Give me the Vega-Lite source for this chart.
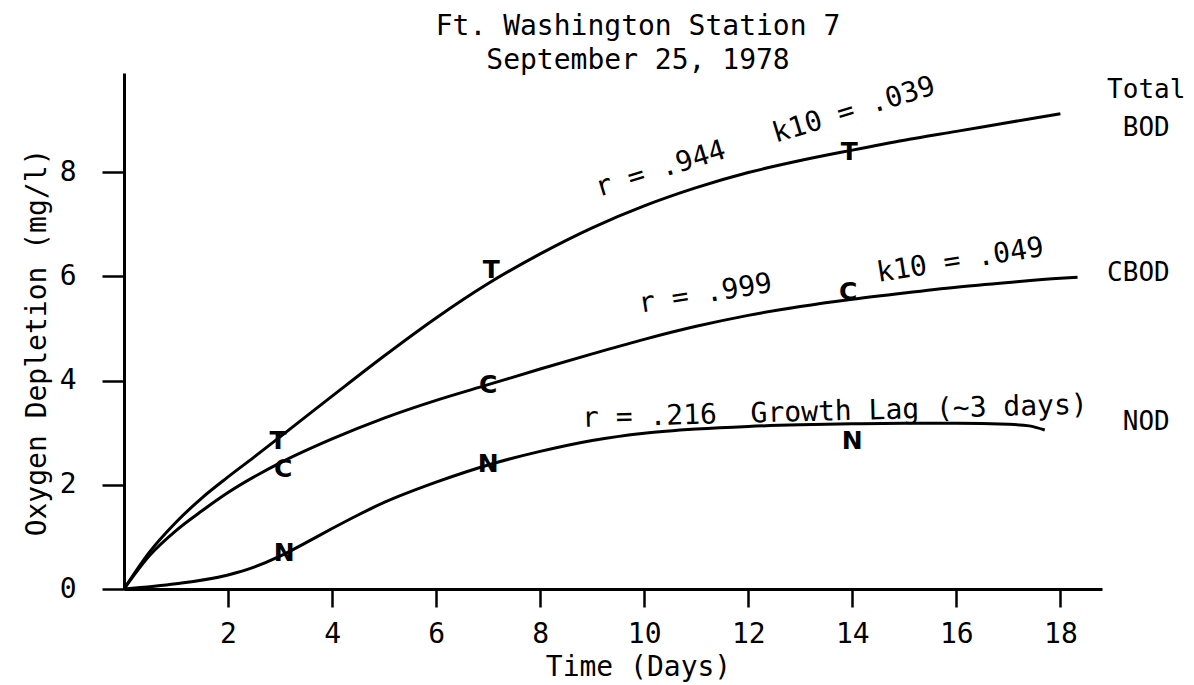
{
  "$schema": "https://vega.github.io/schema/vega-lite/v6.json",
  "width": 978,
  "height": 516,
  "autosize": {"type": "none"},
  "padding": {"left": 124, "top": 73, "right": 92, "bottom": 96},
  "background": "white",
  "config": {
    "view": {"stroke": null},
    "font": "DejaVu Sans Mono",
    "axis": {
      "grid": false,
      "domainColor": "black",
      "domainWidth": 3,
      "tickColor": "black",
      "tickWidth": 2.5,
      "labelColor": "black",
      "titleColor": "black",
      "labelFont": "DejaVu Sans Mono",
      "titleFont": "DejaVu Sans Mono",
      "labelFontSize": 28,
      "titleFontSize": 28,
      "titleFontWeight": "normal",
      "labelFlush": false
    }
  },
  "title": {
    "text": ["Ft. Washington Station 7", "September 25, 1978"],
    "font": "DejaVu Sans Mono",
    "fontSize": 28,
    "fontWeight": "normal",
    "color": "black",
    "lineHeight": 34,
    "anchor": "middle",
    "frame": "group",
    "dx": 25,
    "offset": -2
  },
  "datasets": {
    "curves": [
      {"series": "Total BOD", "day": 0, "value": 0},
      {"series": "Total BOD", "day": 0.5, "value": 0.72},
      {"series": "Total BOD", "day": 1, "value": 1.28},
      {"series": "Total BOD", "day": 1.5, "value": 1.75},
      {"series": "Total BOD", "day": 2, "value": 2.15},
      {"series": "Total BOD", "day": 2.5, "value": 2.53},
      {"series": "Total BOD", "day": 3, "value": 2.92},
      {"series": "Total BOD", "day": 4, "value": 3.7},
      {"series": "Total BOD", "day": 5, "value": 4.47},
      {"series": "Total BOD", "day": 6, "value": 5.2},
      {"series": "Total BOD", "day": 7, "value": 5.86},
      {"series": "Total BOD", "day": 8, "value": 6.43},
      {"series": "Total BOD", "day": 9, "value": 6.93},
      {"series": "Total BOD", "day": 10, "value": 7.35},
      {"series": "Total BOD", "day": 11, "value": 7.7},
      {"series": "Total BOD", "day": 12, "value": 7.99},
      {"series": "Total BOD", "day": 13, "value": 8.22},
      {"series": "Total BOD", "day": 14, "value": 8.42},
      {"series": "Total BOD", "day": 15, "value": 8.61},
      {"series": "Total BOD", "day": 16, "value": 8.78},
      {"series": "Total BOD", "day": 17, "value": 8.95},
      {"series": "Total BOD", "day": 18, "value": 9.12},
      {"series": "CBOD", "day": 0, "value": 0},
      {"series": "CBOD", "day": 0.5, "value": 0.65},
      {"series": "CBOD", "day": 1, "value": 1.12},
      {"series": "CBOD", "day": 1.5, "value": 1.5},
      {"series": "CBOD", "day": 2, "value": 1.85},
      {"series": "CBOD", "day": 3, "value": 2.42},
      {"series": "CBOD", "day": 4, "value": 2.88},
      {"series": "CBOD", "day": 5, "value": 3.28},
      {"series": "CBOD", "day": 6, "value": 3.62},
      {"series": "CBOD", "day": 7, "value": 3.92},
      {"series": "CBOD", "day": 8, "value": 4.22},
      {"series": "CBOD", "day": 9, "value": 4.51},
      {"series": "CBOD", "day": 10, "value": 4.79},
      {"series": "CBOD", "day": 11, "value": 5.04},
      {"series": "CBOD", "day": 12, "value": 5.25},
      {"series": "CBOD", "day": 13, "value": 5.42},
      {"series": "CBOD", "day": 14, "value": 5.56},
      {"series": "CBOD", "day": 15, "value": 5.68},
      {"series": "CBOD", "day": 16, "value": 5.79},
      {"series": "CBOD", "day": 17, "value": 5.88},
      {"series": "CBOD", "day": 18, "value": 5.96},
      {"series": "CBOD", "day": 18.33, "value": 5.98},
      {"series": "NOD", "day": 0, "value": 0},
      {"series": "NOD", "day": 1, "value": 0.1},
      {"series": "NOD", "day": 2, "value": 0.27},
      {"series": "NOD", "day": 2.5, "value": 0.42},
      {"series": "NOD", "day": 3, "value": 0.63},
      {"series": "NOD", "day": 3.5, "value": 0.89},
      {"series": "NOD", "day": 4, "value": 1.16},
      {"series": "NOD", "day": 4.5, "value": 1.42},
      {"series": "NOD", "day": 5, "value": 1.66},
      {"series": "NOD", "day": 6, "value": 2.05},
      {"series": "NOD", "day": 7, "value": 2.38},
      {"series": "NOD", "day": 8, "value": 2.64},
      {"series": "NOD", "day": 9, "value": 2.85},
      {"series": "NOD", "day": 10, "value": 2.99},
      {"series": "NOD", "day": 11, "value": 3.07},
      {"series": "NOD", "day": 12, "value": 3.12},
      {"series": "NOD", "day": 13, "value": 3.15},
      {"series": "NOD", "day": 14, "value": 3.17},
      {"series": "NOD", "day": 15, "value": 3.18},
      {"series": "NOD", "day": 16, "value": 3.18},
      {"series": "NOD", "day": 17, "value": 3.16},
      {"series": "NOD", "day": 17.4, "value": 3.13},
      {"series": "NOD", "day": 17.7, "value": 3.05}
    ],
    "markers": [
      {"letter": "T", "day": 2.96, "value": 2.84},
      {"letter": "T", "day": 7.06, "value": 6.12},
      {"letter": "T", "day": 13.94, "value": 8.39},
      {"letter": "C", "day": 3.06, "value": 2.3},
      {"letter": "C", "day": 7.0, "value": 3.92},
      {"letter": "C", "day": 13.92, "value": 5.7},
      {"letter": "N", "day": 3.08, "value": 0.69},
      {"letter": "N", "day": 7.0, "value": 2.4},
      {"letter": "N", "day": 14.0, "value": 2.84}
    ],
    "notesT": [{"note": "r = .944\u00a0\u00a0\u00a0k10 = .039", "day": 9.12, "value": 7.52}],
    "notesC": [
      {"note": "r = .999", "day": 9.92, "value": 5.3},
      {"note": "k10 = .049", "day": 14.5, "value": 5.89}
    ],
    "notesN": [{"note": "r = .216\u00a0\u00a0Growth Lag (~3 days)", "day": 8.81, "value": 3.11}],
    "seriesLabels": [
      {"label": "Total", "day": 19.65, "value": 9.58},
      {"label": "BOD", "day": 19.65, "value": 8.85},
      {"label": "CBOD", "day": 19.5, "value": 6.07},
      {"label": "NOD", "day": 19.65, "value": 3.2}
    ]
  },
  "layer": [
    {
      "data": {"name": "curves"},
      "mark": {"type": "line", "interpolate": "monotone", "color": "black", "strokeWidth": 3},
      "encoding": {
        "x": {
          "field": "day", "type": "quantitative",
          "scale": {"domain": [0, 18.8], "nice": false, "zero": false},
          "axis": {
            "values": [2, 4, 6, 8, 10, 12, 14, 16, 18],
            "title": "Time (Days)",
            "titleX": 514, "titleY": 86,
            "titleBaseline": "alphabetic", "titleAlign": "center",
            "tickSize": 18, "labelPadding": 13
          }
        },
        "y": {
          "field": "value", "type": "quantitative",
          "scale": {"domain": [0, 9.9], "nice": false, "zero": false},
          "axis": {
            "values": [0, 2, 4, 6, 8],
            "title": "Oxygen Depletion (mg/l)",
            "titleX": -87, "titleY": 269,
            "titleAngle": 270, "titleAlign": "center", "titleBaseline": "middle",
            "tickSize": 22, "labelPadding": 26
          }
        },
        "detail": {"field": "series", "type": "nominal"}
      }
    },
    {
      "data": {"name": "markers"},
      "mark": {"type": "text", "font": "DejaVu Sans", "fontSize": 25, "fontWeight": "bold", "color": "black", "align": "center", "baseline": "middle"},
      "encoding": {
        "x": {"field": "day", "type": "quantitative"},
        "y": {"field": "value", "type": "quantitative"},
        "text": {"field": "letter", "type": "nominal"}
      }
    },
    {
      "data": {"name": "notesT"},
      "mark": {"type": "text", "font": "DejaVu Sans Mono", "fontSize": 28, "color": "black", "align": "left", "baseline": "alphabetic", "angle": -17},
      "encoding": {
        "x": {"field": "day", "type": "quantitative"},
        "y": {"field": "value", "type": "quantitative"},
        "text": {"field": "note", "type": "nominal"}
      }
    },
    {
      "data": {"name": "notesC"},
      "mark": {"type": "text", "font": "DejaVu Sans Mono", "fontSize": 28, "color": "black", "align": "left", "baseline": "alphabetic", "angle": -9},
      "encoding": {
        "x": {"field": "day", "type": "quantitative"},
        "y": {"field": "value", "type": "quantitative"},
        "text": {"field": "note", "type": "nominal"}
      }
    },
    {
      "data": {"name": "notesN"},
      "mark": {"type": "text", "font": "DejaVu Sans Mono", "fontSize": 28, "color": "black", "align": "left", "baseline": "alphabetic", "angle": -1.5},
      "encoding": {
        "x": {"field": "day", "type": "quantitative"},
        "y": {"field": "value", "type": "quantitative"},
        "text": {"field": "note", "type": "nominal"}
      }
    },
    {
      "data": {"name": "seriesLabels"},
      "mark": {"type": "text", "font": "DejaVu Sans Mono", "fontSize": 26, "color": "black", "align": "center", "baseline": "middle"},
      "encoding": {
        "x": {"field": "day", "type": "quantitative"},
        "y": {"field": "value", "type": "quantitative"},
        "text": {"field": "label", "type": "nominal"}
      }
    }
  ]
}
